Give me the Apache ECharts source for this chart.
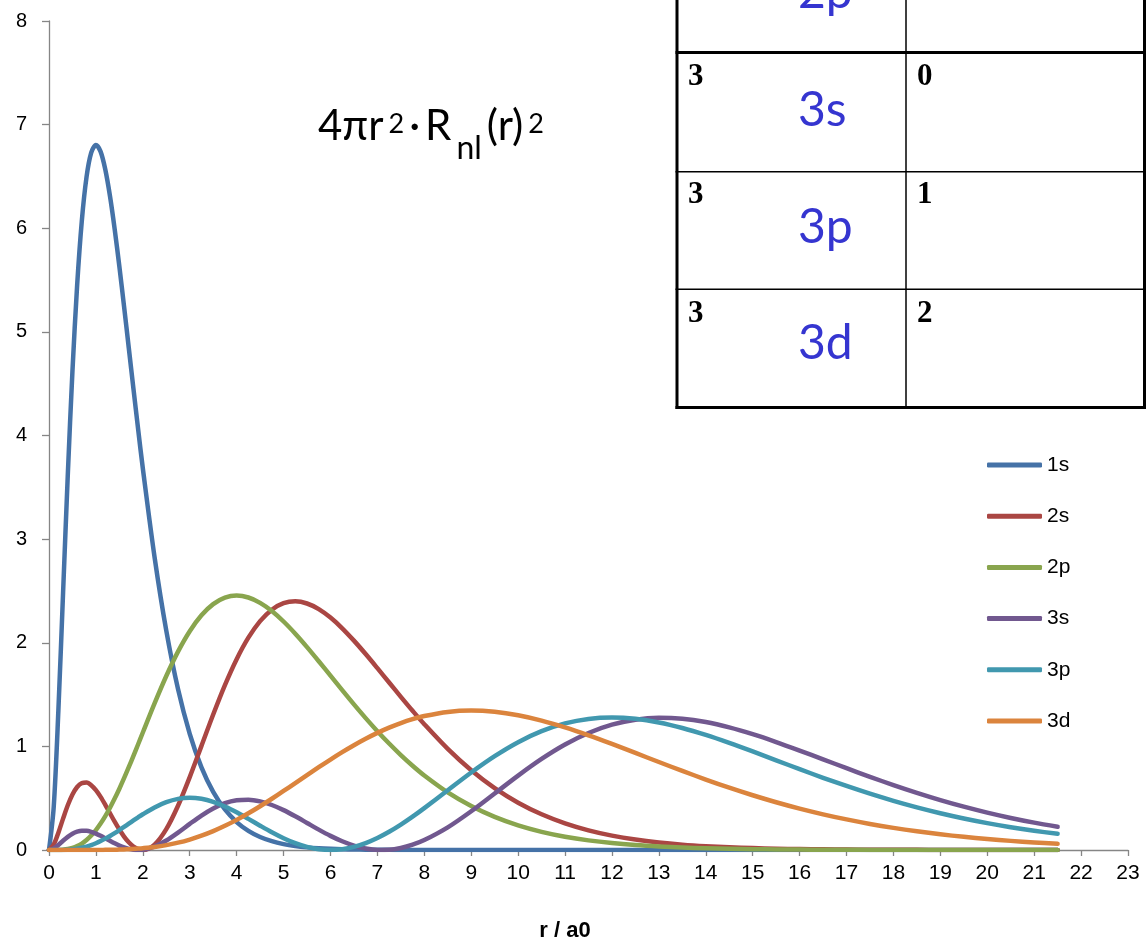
<!DOCTYPE html>
<html><head><meta charset="utf-8">
<script src="https://cdn.jsdelivr.net/npm/echarts@6/dist/echarts.min.js"></script>
<style>html,body{margin:0;padding:0;background:#fff}#c{width:1146px;height:942px}</style>
</head><body><div id="c"></div>
<script>
// radius values (r / a0)
const r = [0,0.1,0.2,0.3,0.4,0.5,0.6,0.7,0.8,0.9,1.0,1.1,1.2,1.3,1.4,1.5,1.6,1.7,1.8,1.9,2.0,
  2.25,2.5,2.75,3,3.25,3.5,3.75,4,4.25,4.5,4.75,5,5.25,5.5,5.75,6,6.25,6.5,6.75,7,7.25,7.5,7.75,8,
  8.5,9,9.5,10,10.5,11,11.5,12,12.5,13,13.5,14,14.5,15,15.5,16,16.5,17,17.5,18,18.5,19,19.5,20,20.5,21,21.5];

const s1s = [0,0.4115,1.3478,2.4828,3.6137,4.6229,5.4502,6.0737,6.4950,6.7301,6.8026,6.7391,6.5663,6.3094,5.9909,5.6308,5.2452,4.8480,4.4500,4.0594,3.6826,
  2.8269,2.1168,1.5535,1.1214,0.7982,0.5615,0.3909,0.2698,0.1847,0.1256,0.0849,0.0571,0.0381,0.0254,0.0168,0.0111,0.0073,0.0048,0.0031,0.0020,0.0013,0.0009,0.0006,0.0004,
  0.0002,0.0001,0,0,0,0,0,0,0,0,0,0,0,0,0,0,0,0,0,0,0,0,0,0,0,0,0];
const s2s = [0,0.0513,0.1667,0.3027,0.4313,0.5359,0.6083,0.6459,0.6505,0.6259,0.5779,0.5125,0.4360,0.3545,0.2733,0.1972,0.1299,0.0746,0.0337,0.0085,0,
  0.0524,0.2015,0.4272,0.7038,1.0052,1.3074,1.5910,1.8413,2.0488,2.2085,2.3189,2.3814,2.3997,2.3788,2.3245,2.2428,2.1396,2.0205,1.8908,1.7547,1.6161,1.4783,1.3436,1.2141,
  0.9756,0.7694,0.5969,0.4564,0.3445,0.2571,0.1899,0.1390,0.1008,0.0726,0.0519,0.0369,0.0260,0.0183,0.0128,0.0089,0.0061,0.0042,0.0029,0.0020,0.0014,0.0009,0.0006,0.0004,0.0003,0.0002,0.0001];
const s2p = [0,0,0.0007,0.0031,0.0090,0.0198,0.0372,0.0624,0.0964,0.1397,0.1926,0.2552,0.3270,0.4076,0.4960,0.5915,0.6928,0.7989,0.9086,1.0206,1.1338,
  1.4144,1.6789,1.9144,2.1115,2.2650,2.3727,2.4352,2.4551,2.4367,2.3852,2.3061,2.2050,2.0873,1.9581,1.8217,1.6821,1.5424,1.4052,1.2727,1.1464,1.0273,0.9163,0.8136,0.7194,
  0.5561,0.4240,0.3192,0.2377,0.1753,0.1280,0.0928,0.0667,0.0476,0.0338,0.0238,0.0167,0.0117,0.0081,0.0056,0.0039,0.0026,0.0018,0.0012,0.0008,0.0006,0.0004,0.0003,0.0002,0.0001,0.0001,0.0001];
const s3s = [0,0.0152,0.0493,0.0893,0.1267,0.1566,0.1764,0.1856,0.1847,0.1751,0.1587,0.1374,0.1133,0.0884,0.0644,0.0428,0.0248,0.0113,0.0029,0,0.0027,
  0.0329,0.0912,0.1679,0.2520,0.3326,0.4012,0.4514,0.4798,0.4853,0.4692,0.4344,0.3849,0.3255,0.2611,0.1966,0.1364,0.0841,0.0428,0.0147,0.0012,0.0028,0.0196,0.0509,0.0955,
  0.2184,0.3738,0.5454,0.7179,0.8786,1.0178,1.1290,1.2091,1.2574,1.2756,1.2666,1.2344,1.1832,1.1178,1.0421,0.9600,0.8750,0.7896,0.7062,0.6263,0.5513,0.4817,0.4182,0.3608,0.3095,0.2641,0.2241];
const s3p = [0,0,0.0002,0.0011,0.0031,0.0069,0.0129,0.0216,0.0332,0.0478,0.0656,0.0862,0.1096,0.1355,0.1633,0.1926,0.2230,0.2539,0.2849,0.3153,0.3447,
  0.4107,0.4616,0.4933,0.5039,0.4937,0.4645,0.4197,0.3634,0.3001,0.2346,0.1712,0.1139,0.0659,0.0299,0.0076,0,0.0076,0.0299,0.0663,0.1153,0.1755,0.2450,0.3218,0.4040,
  0.5764,0.7476,0.9051,1.0400,1.1464,1.2215,1.2651,1.2790,1.2663,1.2311,1.1777,1.1104,1.0335,0.9509,0.8655,0.7802,0.6971,0.6177,0.5432,0.4744,0.4115,0.3548,0.3042,0.2594,0.2201,0.1858,0.1562];
const s3d = [0,0,0,0,0,0,0,0.0001,0.0002,0.0003,0.0005,0.0009,0.0014,0.0021,0.0030,0.0043,0.0059,0.0079,0.0105,0.0135,0.0172,
  0.0296,0.0471,0.0706,0.1008,0.1379,0.1821,0.2332,0.2907,0.3541,0.4223,0.4945,0.5694,0.6459,0.7228,0.7988,0.8729,0.9440,1.0111,1.0733,1.1301,1.1808,1.2250,1.2624,1.2928,
  1.3327,1.3456,1.3336,1.3000,1.2483,1.1824,1.1062,1.0232,0.9366,0.8492,0.7631,0.6801,0.6015,0.5283,0.4608,0.3995,0.3443,0.2951,0.2516,0.2135,0.1803,0.1516,0.1269,0.1059,0.0880,0.0729,0.0601];

const seriesNames = ['1s','2s','2p','3s','3p','3d'];
const seriesValues = [s1s, s2s, s2p, s3s, s3p, s3d];
const seriesColors = ['#4572A7','#AA4643','#89A54E','#71588F','#4198AF','#DB843D'];

// table fragment (n, orbital, l)
const tableN = ['', '3', '3', '3'];
const tableOrb = ['2p', '3s', '3p', '3d'];
const tableL = ['', '0', '1', '2'];

// formula pieces: [text, kind]  kind: m = normal, p = superscript, b = subscript
const titlePieces = [['4πr','m'],['2','p'],['·','m'],['R','m'],['nl','b'],['(r)','m'],['2','p']];

const xAxisName = 'r / a0';

const chart = echarts.init(document.getElementById('c'), null, {renderer:'canvas'});

const axisColor = '#868686';
const series = seriesNames.map((n, k) => ({
  name: n, type: 'line', symbol: 'none', smooth: 0.3,
  data: r.map((x, i) => [x, seriesValues[k][i]]),
  lineStyle: {width: 4.5, color: seriesColors[k], cap: 'round', join: 'round'},
  itemStyle: {color: seriesColors[k]},
  emphasis: {disabled: true}
}));

// table graphics
const tX0 = 677, tXm = 906, tX1 = 1144.5;
const rowLines = [52.5, 171.7, 289.3, 407.5];
const g = [];
g.push({type:'rect', shape:{x:tX0, y:0, width:1146-tX0, height:409}, style:{fill:'#fff'}, z:10});
g.push({type:'line', shape:{x1:tX0, y1:0, x2:tX0, y2:409}, style:{stroke:'#000', lineWidth:3}, z:11});
g.push({type:'line', shape:{x1:tXm, y1:0, x2:tXm, y2:409}, style:{stroke:'#000', lineWidth:1.5}, z:11});
g.push({type:'line', shape:{x1:tX1, y1:0, x2:tX1, y2:409}, style:{stroke:'#000', lineWidth:3}, z:11});
rowLines.forEach((y, i) => {
  const w = (i === 0 || i === 3) ? 3 : 1.5;
  g.push({type:'line', shape:{x1:tX0 - 1.5, y1:y, x2:1146, y2:y}, style:{stroke:'#000', lineWidth:w}, z:11});
});
const orbY = [-7.5, 110.5, 228, 343.5];
const numY = [-40, 77, 195, 313.5];
tableOrb.forEach((t, i) => {
  g.push({type:'text', x:798, y:orbY[i], z:12,
    style:{text:t, font:'48px Lato', fill:'#3535d0', textAlign:'left', textVerticalAlign:'middle'}});
  if (tableN[i]) g.push({type:'text', x:688, y:numY[i], z:12,
    style:{text:tableN[i], font:'bold 31px "Liberation Serif"', fill:'#000', textAlign:'left', textVerticalAlign:'middle'}});
  if (tableL[i]) g.push({type:'text', x:917, y:numY[i], z:12,
    style:{text:tableL[i], font:'bold 31px "Liberation Serif"', fill:'#000', textAlign:'left', textVerticalAlign:'middle'}});
});

// title formula, laid out piece by piece (measured with a canvas context)
const kinds = {m:{size:42, base:139}, p:{size:27, base:132}, b:{size:32, base:158}};
const mctx = document.createElement('canvas').getContext('2d');
const widths = titlePieces.map(([t, k]) => { mctx.font = kinds[k].size + 'px Lato'; return mctx.measureText(t).width; });
const totalW = widths.reduce((a, b) => a + b, 0);
const titleLeft = 318, titleRight = 545;
const gap = Math.min(5, Math.max(0, (titleRight - titleLeft - totalW) / (titlePieces.length - 1)));
let tx = titleLeft;
titlePieces.forEach(([t, k], i) => {
  const fs = kinds[k].size;
  g.push({type:'text', x:tx, y:kinds[k].base - 0.3 * fs, z:12,
    style:{text:t, font: fs + 'px Lato', fill:'#000', textAlign:'left', textVerticalAlign:'middle'}});
  tx += widths[i] + gap;
});

// x axis name
g.push({type:'text', x:565, y:931, z:12, style:{text:xAxisName, font:'bold 22px "Liberation Sans"', fill:'#000', textAlign:'center', textVerticalAlign:'middle'}});

chart.setOption({
  animation: false,
  backgroundColor: '#fff',
  grid: {left: 49, right: 18, top: 21, bottom: 92, containLabel: false},
  xAxis: {
    type: 'value', min: 0, max: 23, interval: 1,
    axisLine: {show: true, onZero: false, lineStyle: {color: axisColor, width: 1.3}},
    axisTick: {show: true, length: 6, lineStyle: {color: axisColor, width: 1.3}},
    splitLine: {show: false},
    axisLabel: {color: '#000', fontSize: 21, fontFamily: 'Liberation Sans', margin: 13, showMinLabel: true, showMaxLabel: true}
  },
  yAxis: {
    type: 'value', min: 0, max: 8, interval: 1,
    axisLine: {show: true, lineStyle: {color: axisColor, width: 1.3}},
    axisTick: {show: true, length: 7, lineStyle: {color: axisColor, width: 1.3}},
    splitLine: {show: false},
    axisLabel: {color: '#000', fontSize: 20, fontFamily: 'Liberation Sans', margin: 22, showMinLabel: true, showMaxLabel: true}
  },
  legend: {
    orient: 'vertical', left: 987, top: 454, padding: 0,
    icon: 'roundRect', itemWidth: 55, itemHeight: 5, itemGap: 29.2, selectedMode: false,
    textStyle: {color: '#000', fontSize: 21, fontFamily: 'Liberation Sans', lineHeight: 22},
    data: seriesNames
  },
  graphic: g,
  series: series
});
</script></body></html>
